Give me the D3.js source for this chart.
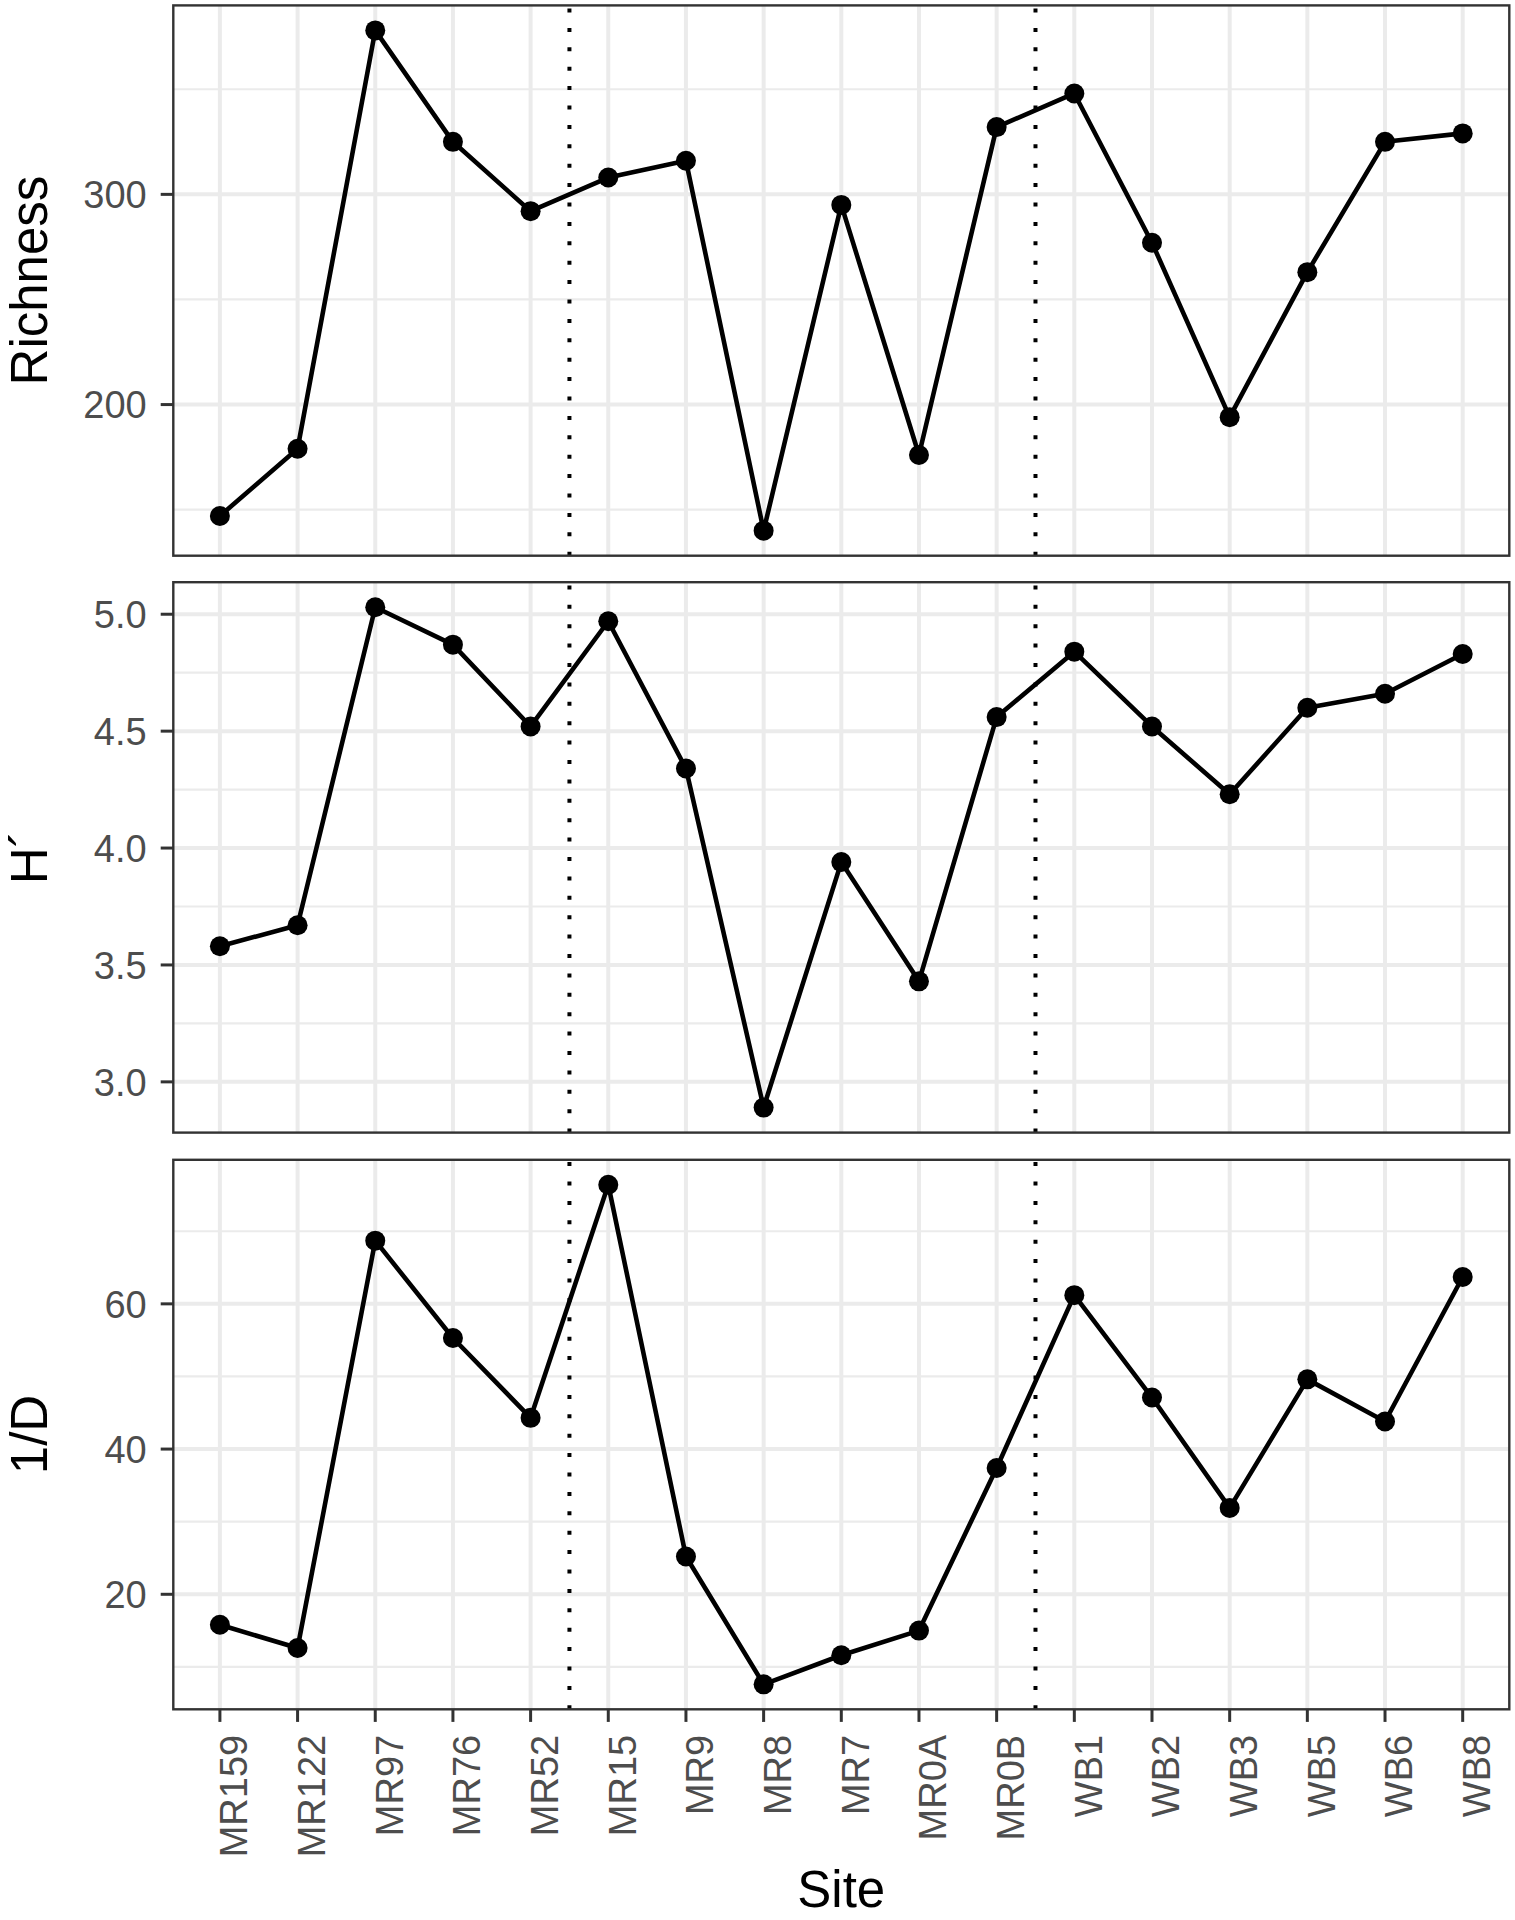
<!DOCTYPE html>
<html>
<head>
<meta charset="utf-8">
<script src="https://cdn.jsdelivr.net/npm/d3@7"></script>
<style>
  html, body { margin: 0; padding: 0; background: #fff; }
  svg { display: block; }
  text { font-family: "Liberation Sans", Arial, Helvetica, sans-serif; }
</style>
</head>
<body>
<svg id="chart" width="1515" height="1920"></svg>
<script>
// ---- data ----
const sites = ["MR159","MR122","MR97","MR76","MR52","MR15","MR9","MR8","MR7","MR0A","MR0B","WB1","WB2","WB3","WB5","WB6","WB8"];
const richness = [147, 179, 378, 325, 292, 308, 316, 140, 295, 176, 332, 348, 277, 194, 263, 325, 329];
const shannon = [3.58, 3.67, 5.03, 4.87, 4.52, 4.97, 4.34, 2.89, 3.94, 3.43, 4.56, 4.84, 4.52, 4.23, 4.60, 4.66, 4.83];
const invSimpson = [15.8, 12.6, 68.7, 55.3, 44.3, 76.4, 25.2, 7.6, 11.6, 15.0, 37.4, 61.2, 47.1, 31.9, 49.6, 43.8, 63.7];
const dividerAfter = ["MR52", "MR0B"];
const panelTitles = ["Richness", "H\u00B4", "1/D"];
const richTicks = [200, 300];
const richMinor = [150, 250, 350];
const shanTicks = [3.0, 3.5, 4.0, 4.5, 5.0];
const shanMinor = [3.25, 3.75, 4.25, 4.75];
const invTicks = [20, 40, 60];
const invMinor = [10, 30, 50, 70];
const xTitle = "Site";

// ---- layout ----
const svg = d3.select("#chart");
const left = 173.3, right = 1509.3;
const panels = [
  {title: panelTitles[0], values: richness, ticks: richTicks, minor: richMinor, top: 5.4, bottom: 555.7, fmt: d3.format("d")},
  {title: panelTitles[1], values: shannon, ticks: shanTicks, minor: shanMinor, top: 582.2, bottom: 1132.6, fmt: d3.format(".1f")},
  {title: panelTitles[2], values: invSimpson, ticks: invTicks, minor: invMinor, top: 1159.8, bottom: 1709.3, fmt: d3.format("d")}
];

const x = d3.scalePoint().domain(sites).range([left, right]).padding(0.6);
const gridCol = "#EBEBEB";
const darkCol = "#333333";
const tickFont = 38;
const titleFont = 51;

panels.forEach((p, pi) => {
  const ext = d3.extent(p.values);
  const pad = (ext[1] - ext[0]) * 0.05;
  const y = d3.scaleLinear().domain([ext[0] - pad, ext[1] + pad]).range([p.bottom, p.top]);
  const g = svg.append("g");

  g.append("rect").attr("x", left).attr("y", p.top).attr("width", right - left).attr("height", p.bottom - p.top).attr("fill", "#fff");

  // minor grid
  g.selectAll(".minor").data(p.minor).enter().append("line")
    .attr("x1", left).attr("x2", right)
    .attr("y1", d => y(d)).attr("y2", d => y(d))
    .attr("stroke", gridCol).attr("stroke-width", 2.2);
  // major grid horizontal
  g.selectAll(".majorh").data(p.ticks).enter().append("line")
    .attr("x1", left).attr("x2", right)
    .attr("y1", d => y(d)).attr("y2", d => y(d))
    .attr("stroke", gridCol).attr("stroke-width", 4);
  // major grid vertical
  g.selectAll(".majorv").data(sites).enter().append("line")
    .attr("x1", d => x(d)).attr("x2", d => x(d))
    .attr("y1", p.top).attr("y2", p.bottom)
    .attr("stroke", gridCol).attr("stroke-width", 4);

  // dotted dividers
  dividerAfter.forEach(s => {
    const i = sites.indexOf(s);
    const xv = (x(sites[i]) + x(sites[i + 1])) / 2;
    g.append("line").attr("x1", xv).attr("x2", xv)
      .attr("y1", p.bottom).attr("y2", p.top)
      .attr("stroke", "#000").attr("stroke-width", 4)
      .attr("stroke-dasharray", "4,15.4");
  });

  // line
  const line = d3.line().x((d, i) => x(sites[i])).y(d => y(d));
  g.append("path").datum(p.values).attr("d", line)
    .attr("fill", "none").attr("stroke", "#000").attr("stroke-width", 4.6).attr("stroke-linejoin", "round");
  // points
  g.selectAll(".pt").data(p.values).enter().append("circle")
    .attr("cx", (d, i) => x(sites[i])).attr("cy", d => y(d)).attr("r", 10).attr("fill", "#000");

  // border
  g.append("rect").attr("x", left).attr("y", p.top).attr("width", right - left).attr("height", p.bottom - p.top)
    .attr("fill", "none").attr("stroke", darkCol).attr("stroke-width", 2.4);

  // y axis ticks
  g.selectAll(".yt").data(p.ticks).enter().append("line")
    .attr("x1", left - 12.6).attr("x2", left).attr("y1", d => y(d)).attr("y2", d => y(d))
    .attr("stroke", darkCol).attr("stroke-width", 3);
  g.selectAll(".yl").data(p.ticks).enter().append("text")
    .attr("x", left - 26.6).attr("y", d => y(d)).attr("dy", "0.36em")
    .attr("text-anchor", "end").attr("font-size", tickFont).attr("fill", "#4D4D4D")
    .text(d => p.fmt(d));

  // y title
  const cy = (p.top + p.bottom) / 2;
  g.append("text").attr("transform", `translate(47,${cy}) rotate(-90)`)
    .attr("text-anchor", "middle").attr("font-size", titleFont).attr("fill", "#000")
    .text(p.title);

  // x axis on last panel
  if (pi === panels.length - 1) {
    g.selectAll(".xt").data(sites).enter().append("line")
      .attr("x1", d => x(d)).attr("x2", d => x(d)).attr("y1", p.bottom).attr("y2", p.bottom + 12.6)
      .attr("stroke", darkCol).attr("stroke-width", 3);
    g.selectAll(".xl").data(sites).enter().append("text")
      .attr("transform", d => `translate(${x(d) + 0.72 * tickFont},${p.bottom + 25.5}) rotate(-90)`)
      .attr("text-anchor", "end").attr("font-size", tickFont).attr("fill", "#4D4D4D")
      .text(d => d);
    g.append("text").attr("x", (left + right) / 2).attr("y", 1907)
      .attr("text-anchor", "middle").attr("font-size", titleFont).attr("fill", "#000")
      .text(xTitle);
  }
});
</script>
</body>
</html>
